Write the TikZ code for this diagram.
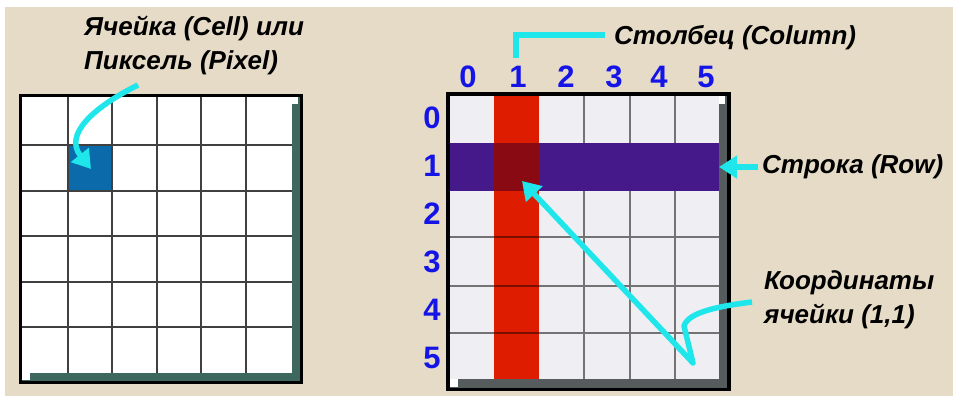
\documentclass[tikz,border=0pt]{standalone}
\usepackage{fontspec}
\setmainfont{Liberation Sans}
\usetikzlibrary{arrows.meta}
\definecolor{bg}{HTML}{E6DBC6}
\definecolor{cy}{HTML}{1EE6EA}
\definecolor{cellblue}{HTML}{0B6AAA}
\definecolor{numblue}{HTML}{1414E6}
\definecolor{redcol}{HTML}{DE1C00}
\definecolor{purp}{HTML}{46198A}
\definecolor{darkred}{HTML}{8A0A14}
\definecolor{teal}{HTML}{3E675F}
\definecolor{greysh}{HTML}{565C5E}
\definecolor{lightcell}{HTML}{EFEFF3}
\tikzset{
  lbl/.style={font=\fontsize{26}{34}\selectfont\bfseries\itshape, text=black, inner sep=0pt, align=left},
  num/.style={font=\fontsize{31}{34}\selectfont\bfseries, text=numblue, inner sep=0pt},
  cyarrow/.style={draw=cy, line width=5.5pt, -{Triangle[length=18pt,width=22pt]}},
  cyline/.style={draw=cy, line width=6pt},
}
\begin{document}
\begin{tikzpicture}[x=1pt,y=-1pt]
\useasboundingbox (0,0) rectangle (953,396);
\fill[white] (0,0) rectangle (953,396);
\fill[bg] (5,7) rectangle (953,396);

% ---------- left grid ----------
\fill[black] (19,94) rectangle (303,384);
\fill[teal] (22,97) rectangle (300,381);
\fill[white] (22,97) rectangle (292,373);
\fill[white] (292,97) rectangle (298,104);
\fill[white] (22,373) rectangle (30,380);
\fill[cellblue] (68,145) rectangle (112,191);
\foreach \x in {68,112,157,201,246}
  \draw[black!75, line width=2.2pt] (\x,97) -- (\x,373);
\foreach \y in {145,191,236,282,327}
  \draw[black!75, line width=2.2pt] (22,\y) -- (292,\y);
\coordinate (cell) at (91,169);

% ---------- right grid ----------
\fill[black] (446,92) rectangle (731,391);
\fill[greysh] (450,96) rectangle (727,388);
\fill[lightcell] (450,96) rectangle (719,379);
\fill[white] (719,96) rectangle (725,104);
\fill[white] (450,379) rectangle (458,387);
\foreach \x in {584,630,675}
  \draw[black!55, line width=1.8pt] (\x,96) -- (\x,379);
\foreach \y in {237,286,333}
  \draw[black!55, line width=1.8pt] (450,\y) -- (719,\y);
\fill[redcol] (494,96) rectangle (539,379);
\fill[purp] (450,143) rectangle (719,191);
\fill[darkred] (494,143) rectangle (539,191);
\foreach \y in {237,286,333}
  \draw[black!45!redcol, line width=1.5pt] (494,\y) -- (539,\y);
\coordinate (c11) at (522,181);
\coordinate (rowend) at (719,167);
\coordinate (colend) at (516,58);

% numbers
\foreach \n/\x in {0/468,1/518,2/566,3/614,4/659,5/706}
  \node[num] (col\n) at (\x,77) {\n};
\foreach \n/\y in {0/118,1/166,2/214,3/262,4/310,5/358}
  \node[num] (row\n) at (432,\y) {\n};

% labels
\node[lbl, anchor=west] (cellL) at (84,45) {Ячейка (Cell) или\\Пиксель (Pixel)};
\node[lbl, anchor=west] (colL) at (614,38) {Столбец (Column)};
\node[lbl, anchor=west] (rowL) at (762,167) {Строка (Row)};
\node[lbl, anchor=west] (coordL) at (764,300) {Координаты\\ячейки (1,1)};

% arrows
\draw[cyarrow] (138,85) .. controls (92,108) and (64,135) .. (cell);
\draw[cyline] (605,35) -- (516,35) -- (colend);
\draw[cyarrow] (758,167) -- (rowend);
\draw[cyarrow, line join=round] (752,302) .. controls (720,306) and (688,312) .. (684,326) -- (693,363) -- (c11);
\end{tikzpicture}
\end{document}
